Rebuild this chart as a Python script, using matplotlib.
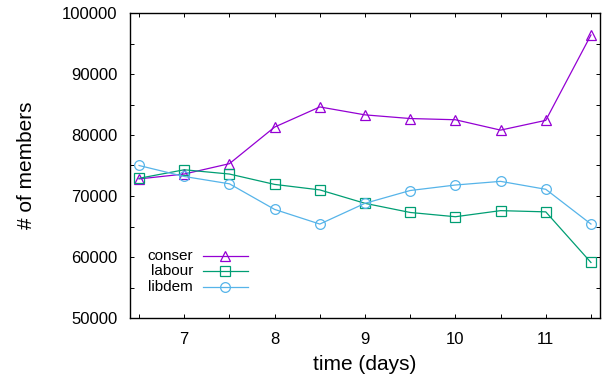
import matplotlib
matplotlib.use("Agg")
import matplotlib.pyplot as plt
import numpy as np

plt.rcParams['font.family'] = ['Liberation Sans', 'DejaVu Sans']

# data
days = [6.5, 7, 7.5, 8, 8.5, 9, 9.5, 10, 10.5, 11, 11.5]
conser = [72800, 73600, 75300, 81300, 84600, 83300, 82700, 82500, 80800, 82400, 96400]
labour = [72900, 74300, 73600, 71900, 71000, 68800, 67300, 66600, 67600, 67400, 59100]
libdem = [75000, 73200, 72000, 67800, 65400, 68800, 70900, 71800, 72400, 71100, 65400]

series = [("conser", conser, "#9400d3", "^"),
          ("labour", labour, "#009e73", "s"),
          ("libdem", libdem, "#56b4e9", "o")]

fig = plt.figure(figsize=(6.09, 3.79), dpi=100)
ax = fig.add_axes([130 / 609, 61 / 379, 470 / 609, 305 / 379])

for name, vals, col, mk in series:
    ax.plot(days, vals, color=col, lw=0.9, marker=mk, ms=7,
            mfc="none", mec=col, mew=0.9)

ax.set_xlim(6.4, 11.6)
ax.set_ylim(50000, 100000)

xt = np.arange(6.5, 11.51, 0.5)
ax.set_xticks(xt)
ax.set_xticklabels([str(int(v)) if v == int(v) else "" for v in xt])
yt = np.arange(50000, 100001, 5000)
ax.set_yticks(yt)
ax.set_yticklabels([str(int(v)) if v % 10000 == 0 else "" for v in yt])

ax.tick_params(direction="in", length=3, width=0.7, top=True, right=True,
               labelsize=12, colors="black")
ax.tick_params(axis="y", pad=9)
ax.tick_params(axis="x", pad=10)
for sp in ax.spines.values():
    sp.set_linewidth(1.0)

ax.set_xlabel("time (days)", fontsize=15, labelpad=6)
ax.set_ylabel("# of members", fontsize=15, labelpad=19)

# gnuplot-style key: right-aligned text, sample to the right
key_y = [0.203, 0.154, 0.103]
for (name, vals, col, mk), ky in zip(series, key_y):
    ax.text(0.134, ky, name, transform=ax.transAxes, ha="right", va="center",
            fontsize=11)
    ax.plot([0.155, 0.251], [ky, ky], transform=ax.transAxes, color=col,
            lw=0.9, clip_on=False)
    ax.plot([0.203], [ky], transform=ax.transAxes, color=col, marker=mk,
            ms=7, mfc="none", mec=col, mew=0.9, clip_on=False)

plt.savefig("out.png", dpi=100)
